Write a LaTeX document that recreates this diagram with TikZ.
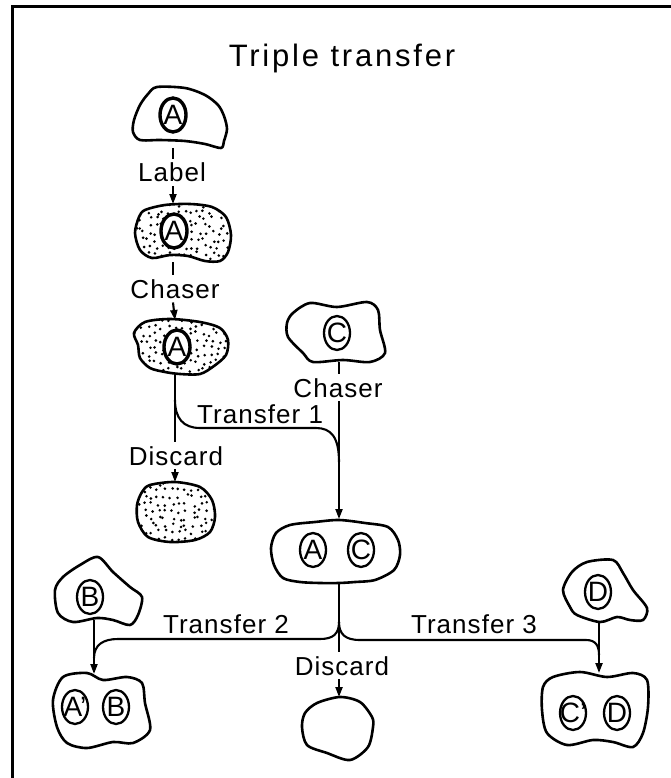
\documentclass[tikz,border=0pt]{standalone}
\usepackage{fontspec}
\setmainfont{Liberation Sans}
\newfontfamily\labfont[LetterSpace=4]{Liberation Sans}
\newfontfamily\ttlfont[LetterSpace=9]{Liberation Sans}
\usetikzlibrary{arrows.meta,calc,shapes.geometric}

\newcommand\specks[4]{%
  \foreach \i in {0,...,#3}{\foreach \j in {0,...,#4}{%
    \pgfmathsetmacro\sx{#1+7*\i+2.6*rand}%
    \pgfmathsetmacro\sy{#2+7*\j+2.6*rand}%
    \fill (\sx,\sy) circle (1.45pt);%
  }}}
\newcommand\plainblob[1]{\draw[outline] plot[smooth cycle, tension=.5] coordinates {#1};}
\newcommand\dottedblob[5]{%
  \begin{scope}
    \clip plot[smooth cycle, tension=.5] coordinates {#1};
    \specks{#2}{#3}{#4}{#5}
  \end{scope}
  \draw[outline] plot[smooth cycle, tension=.5] coordinates {#1};}

\tikzset{
  outline/.style={line width=2.6pt, line join=round, line cap=round},
  conn/.style={line width=2.1pt},
  arr/.style={conn, -{Triangle[length=10pt,width=7pt]}},
  lbl/.style={font=\labfont\fontsize{26pt}{28pt}\selectfont, inner sep=4pt, anchor=base},
  ttl/.style={font=\ttlfont\fontsize{31pt}{33pt}\selectfont, inner sep=0pt, anchor=base},
  nuc/.style={draw, ellipse, fill=white, minimum width=26pt, minimum height=34pt,
    inner sep=0pt, line width=2.3pt, font=\fontsize{28pt}{30pt}\selectfont},
  thicknuc/.style={nuc, line width=3.4pt},
  hold/.style={draw=none, inner sep=0pt, outer sep=0pt, rectangle, minimum width=90pt}
}

\begin{document}
\begin{tikzpicture}[x=1pt,y=-1pt]
\useasboundingbox (0,0) rectangle (671,778);
\pgfmathsetseed{4711}

% frame
\draw[line width=2.2pt] (12.5,778) -- (12.5,6.5) -- (671,6.5);

% title
\node[ttl] (title) at (342,67) {Triple transfer};

% blobs
\plainblob{(157,87) (185,88) (205,95) (218,105) (224,116) (227,129) (224,141) (221,148) (205,144) (185,141) (160,140) (140,140) (133,132) (134,120) (140,105) (148,94)}
\dottedblob{(145,210) (165,205) (190,204) (212,207) (226,217) (231,235) (228,252) (220,261) (205,261) (188,256) (170,255) (152,258) (140,250) (135,233) (139,217)}{135}{205}{14}{8}
\dottedblob{(145,322) (170,319) (200,322) (220,328) (228,340) (226,355) (214,366) (200,374) (180,374) (165,372) (150,368) (140,358) (138,345) (134,333)}{134}{320}{14}{8}
\dottedblob{(150,485) (175,482) (200,487) (212,500) (215,517) (210,532) (195,540) (170,542) (148,537) (138,522) (137,505) (142,492)}{137}{483}{11}{9}
\plainblob{(293,313) (310,303) (337,307) (367,302) (378,310) (380,330) (385,353) (370,362) (343,360) (313,362) (303,353) (288,337) (287,323)}
\plainblob{(290,525) (315,522) (339,520) (365,523) (388,527) (398,540) (400,555) (394,570) (375,580) (355,582) (339,583) (320,583) (300,582) (283,578) (274,565) (271,548) (276,533)}
\plainblob{(317,703) (340,697) (360,702) (372,717) (373,727) (368,747) (350,760) (327,753) (307,745) (302,727) (305,713)}
\plainblob{(80,565) (98,557) (113,572) (130,587) (142,597) (138,615) (130,625) (113,620) (97,618) (73,622) (58,613) (55,590) (63,577)}
\plainblob{(63,677) (87,673) (103,680) (127,677) (142,683) (145,703) (150,730) (133,743) (113,742) (87,748) (67,743) (57,727) (53,700)}
\plainblob{(572,572) (587,562) (613,560) (623,573) (633,590) (647,608) (643,620) (630,620) (617,617) (600,622) (577,615) (570,607) (563,590)}
\plainblob{(553,677) (580,672) (607,677) (633,673) (647,680) (648,707) (643,733) (633,747) (613,742) (593,740) (567,745) (547,733) (542,710) (543,687)}

% invisible holders for connector ends
\node[hold, minimum height=61pt] (cA1) at (173,117.5) {};
\node[hold, minimum height=58pt] (cA2) at (173,233) {};
\node[hold, minimum height=55pt] (cA3) at (175,347.5) {};
\node[hold, minimum height=60pt] (cD1) at (175,512) {};
\node[hold, minimum height=60pt] (cC) at (339,332) {};
\node[hold, minimum height=65pt] (cAC) at (339,551.5) {};
\node[hold, minimum height=63pt] (cD2) at (339,728.5) {};
\node[hold, minimum height=63pt] (cB) at (94,588.5) {};
\node[hold, minimum height=74pt] (cAB) at (94,711) {};
\node[hold, minimum height=61pt] (cD) at (599,590.5) {};
\node[hold, minimum height=72pt] (cCD) at (599,709) {};

% nuclei
\node[thicknuc] (nA1) at (173,115) {\makebox[0pt]{A}};
\node[thicknuc] (nA2) at (174,231) {\makebox[0pt]{A}};
\node[thicknuc] (nA3) at (177,347) {\makebox[0pt]{A}};
\node[nuc] (nC) at (337,333) {\makebox[0pt]{C}};
\node[nuc] (nACa) at (313,550) {\makebox[0pt]{A}};
\node[nuc] (nACc) at (361,550) {\makebox[0pt]{C}};
\node[nuc] (nB) at (90,597) {\makebox[0pt]{B}};
\node[nuc] (nABa) at (75,707) {\makebox[0pt]{A'}};
\node[nuc] (nABb) at (116,707) {\makebox[0pt]{B}};
\node[nuc] (nD) at (598,592) {\makebox[0pt]{D}};
\node[nuc] (nCDc) at (573,713) {\makebox[0pt]{C'}};
\node[nuc] (nCDd) at (617,713) {\makebox[0pt]{D}};

% labels
\node[lbl] (lLabel) at (172,182) {Label};
\node[lbl] (lCh1) at (175,298) {Chaser};
\node[lbl] (lDis1) at (176,465) {Discard};
\node[lbl] (lCh2) at (338,397) {Chaser};
\node[lbl, anchor=base west, inner sep=0pt] (lT1) at (197,423) {Transfer 1};
\node[lbl] (lT2) at (226,633) {Transfer 2};
\node[lbl] (lT3) at (474,633) {Transfer 3};
\node[lbl] (lDis2) at (342,675) {Discard};

% connectors
\draw[conn] (cA1.south) -- (cA1.south |- lLabel.north);
\draw[arr] (cA1.south |- lLabel.south) -- (cA2.north);
\draw[conn] (cA2.south) -- (cA2.south |- lCh1.north);
\draw[arr] (cA2.south |- lCh1.south) -- (cA3.north);
\draw[conn] (cA3.south) -- (cA3.south |- lDis1.north);
\draw[arr] (cA3.south |- lDis1.south) -- (cD1.north);
\draw[conn] (cC.south) -- (cC.south |- lCh2.north);
\draw[arr] (cC.south |- lCh2.south) -- (cAC.north);
\draw[conn] (cAC.south) -- (cAC.south |- lDis2.north);
\draw[arr] (cAC.south |- lDis2.south) -- (cD2.north);
\draw[arr] (cB.south) -- (cAB.north);
\draw[arr] (cD.south) -- (cCD.north);

% transfer branches
\coordinate (t1) at (175,400);
\coordinate (m1) at (339,462);
\coordinate (jn) at (339,622);
\coordinate (m2) at (94,658);
\coordinate (m3) at (599,655);
\draw[conn] (t1) .. controls (175,418) and (183,428) .. (200,428) -- (316,428)
  .. controls (331,428) and (339,437) .. (m1);
\draw[conn] (jn) .. controls (339,634) and (333,639) .. (320,639) -- (118,639)
  .. controls (103,639) and (94,645) .. (m2);
\draw[conn] (jn) .. controls (339,634) and (345,640) .. (360,640) -- (586,640)
  .. controls (596,640) and (599,646) .. (m3);
\end{tikzpicture}
\end{document}
